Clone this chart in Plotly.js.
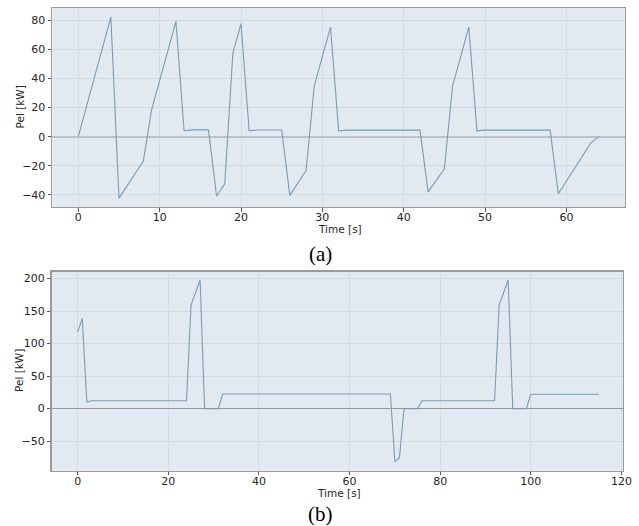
<!DOCTYPE html>
<html>
<head>
<meta charset="utf-8">
<script src="https://cdn.plot.ly/plotly-3.0.1.min.js"></script>
<style>html,body{margin:0;padding:0;background:#fff;}#chart{width:639px;height:526px;}</style>
</head>
<body>
<div id="chart"></div>
<script>
// Panel (a)
const timeA = [0, 4, 5, 8, 9, 12, 13, 14, 16, 17, 18, 19, 20, 21, 22, 25, 26, 28, 29, 30, 31, 32, 33, 42, 43, 45, 46, 48, 49, 50, 58, 59, 63, 64];
const pelA  = [0, 82.3, -42.3, -16.7, 18.3, 79.4, 4.1, 4.7, 4.7, -41, -32.4, 57.6, 77.8, 4.1, 4.6, 4.6, -40.4, -23.3, 34.8, 55, 75.5, 4, 4.5, 4.5, -38, -22.2, 34.8, 75.5, 4, 4.5, 4.5, -39.3, -4.3, 0];
// Panel (b)
const timeB = [0, 1, 2, 3, 24, 25, 27, 28, 31, 32, 69, 70, 71, 72, 75, 76, 92, 93, 95, 96, 99, 100, 115];
const pelB  = [118, 138.7, 10.2, 12, 12, 159, 197.7, 0, 0, 22.5, 22.5, -82, -75.5, 0, 0, 12, 12, 159, 197.7, 0, 0, 22, 22];

const panelLabels = ['(a)', '(b)'];
const xTitle = 'Time [s]';
const yTitle = 'Pel [kW]';

const lineColor = '#7b9bb4';
const traces = [
  {x: timeA, y: pelA, xaxis: 'x', yaxis: 'y', mode: 'lines', line: {color: lineColor, width: 1.1}, hoverinfo: 'skip'},
  {x: timeB, y: pelB, xaxis: 'x2', yaxis: 'y2', mode: 'lines', line: {color: lineColor, width: 1.1}, hoverinfo: 'skip'}
];

const tickFont = {family: 'DejaVu Sans', size: 11, color: '#262626'};
const titleFont = {family: 'DejaVu Sans', size: 10.5, color: '#262626'};
function xax(domain, range, anchor, dtick) {
  return {domain: domain, range: range, anchor: anchor, dtick: dtick, tick0: 0,
    showgrid: true, gridcolor: '#d3dce5', gridwidth: 1, zeroline: false,
    showline: true, mirror: true, linecolor: '#9a9a9a', linewidth: 1.2,
    ticks: 'outside', ticklen: 3.5, tickwidth: 1, tickcolor: '#555',
    ticklabelstandoff: -4,
    tickfont: tickFont, automargin: false};
}
function yax(domain, range, anchor, dtick, zc, zw) {
  return {domain: domain, range: range, anchor: anchor, dtick: dtick, tick0: 0,
    showgrid: true, gridcolor: '#d3dce5', gridwidth: 1,
    zeroline: true, zerolinecolor: zc, zerolinewidth: zw,
    showline: true, mirror: true, linecolor: '#9a9a9a', linewidth: 1.2,
    ticks: 'outside', ticklen: 3.5, tickwidth: 1, tickcolor: '#555',
    tickfont: tickFont, automargin: false};
}

function label(text, x, y, font, angle) {
  return {text: text, xref: 'paper', yref: 'paper', x: x / 639, y: 1 - y / 526,
    xanchor: 'center', yanchor: 'middle', showarrow: false, font: font, textangle: angle || 0};
}
const serif = {family: 'Liberation Serif', size: 21, color: '#000'};

const layout = {
  width: 639, height: 526,
  margin: {l: 0, r: 0, t: 0, b: 0},
  paper_bgcolor: '#ffffff',
  plot_bgcolor: '#e2e9f0',
  showlegend: false,
  xaxis: xax([0.0818, 0.9781], [-3.2, 67.2], 'y', 10),
  yaxis: yax([0.6065, 0.9848], [-48.4, 88.6], 'x', 20, '#b9c4ce', 2),
  xaxis2: xax([0.0809, 0.9754], [-5.75, 120.4], 'y2', 20),
  yaxis2: yax([0.1051, 0.4835], [-95.5, 210.5], 'x2', 50, '#8d9aa6', 1.2),
  annotations: [
    label(xTitle, 339.5, 229, titleFont),
    label(xTitle, 339, 493, titleFont),
    label(yTitle, 19, 107.5, titleFont, -90),
    label(yTitle, 19, 371, titleFont, -90),
    label(panelLabels[0], 320, 254, serif),
    label(panelLabels[1], 320, 514, serif)
  ]
};

Plotly.newPlot('chart', traces, layout, {staticPlot: true, displayModeBar: false});
</script>
</body>
</html>
